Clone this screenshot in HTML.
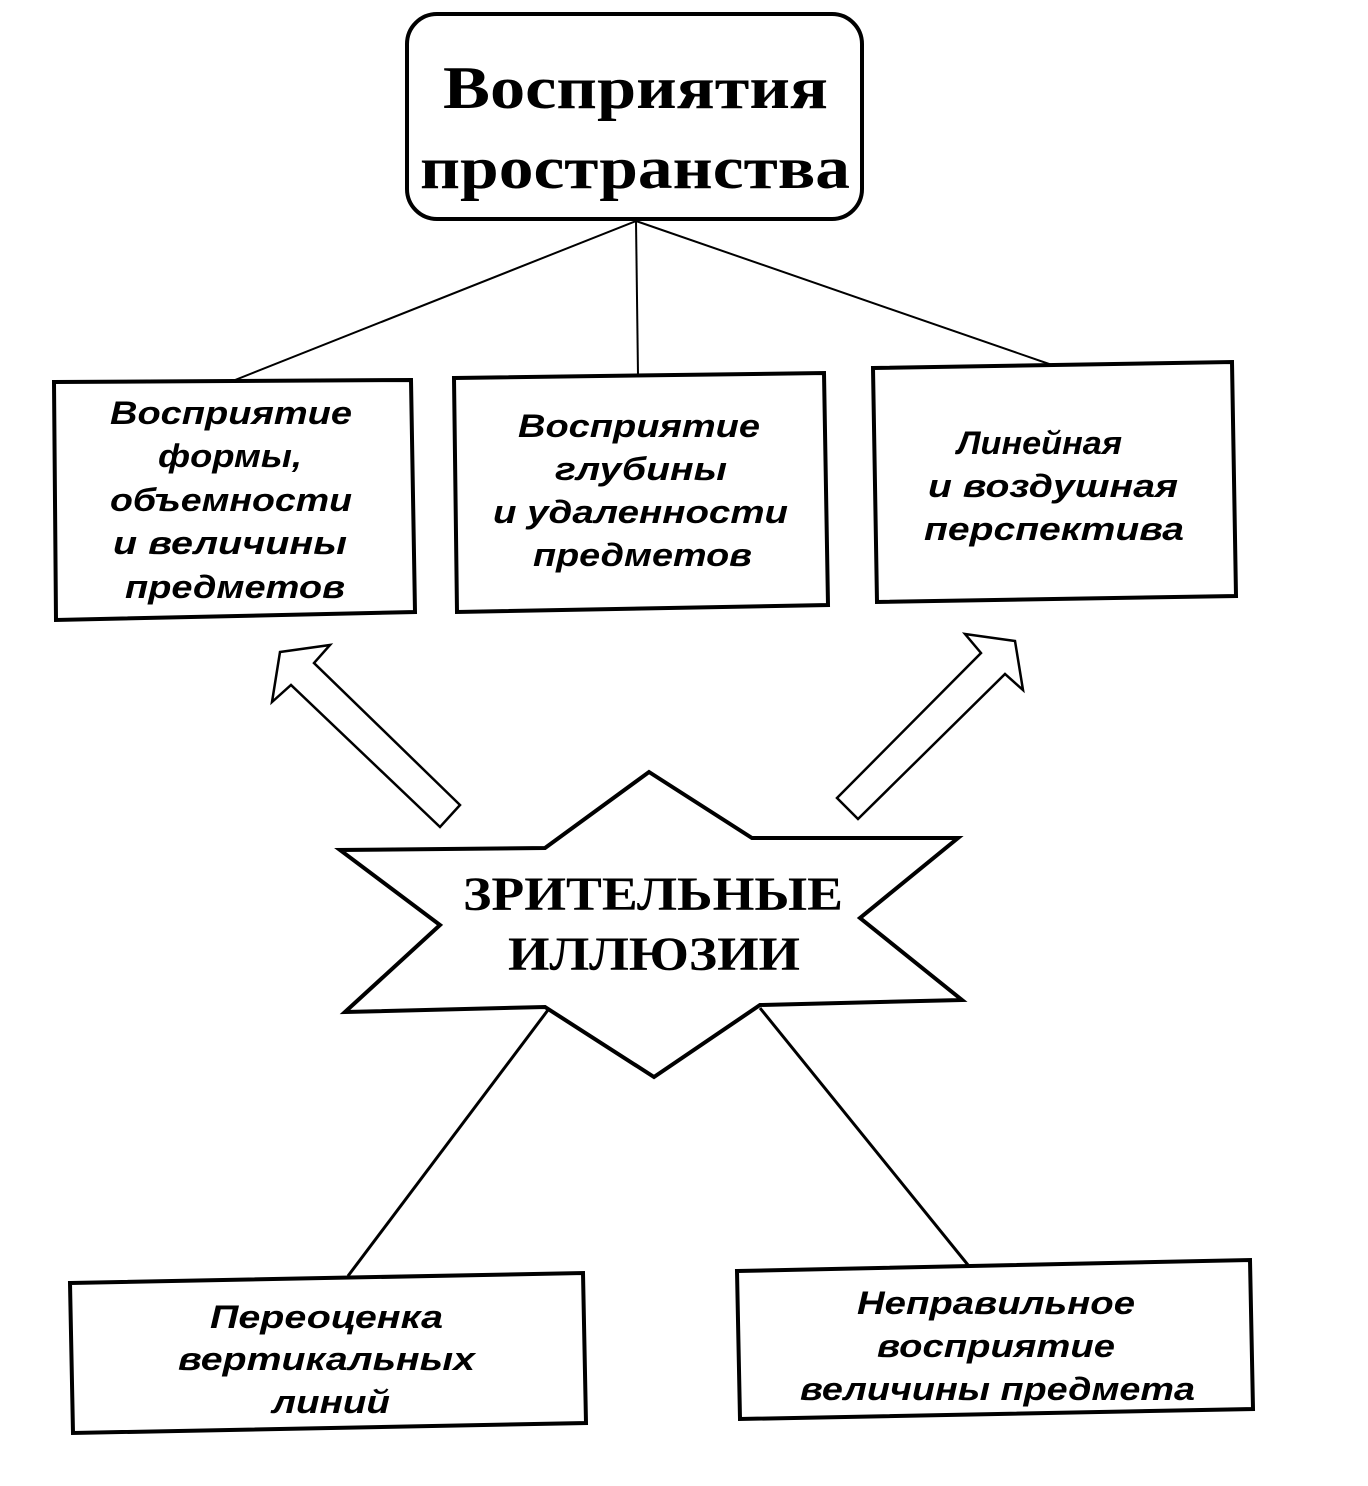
<!DOCTYPE html>
<html><head><meta charset="utf-8"><style>html,body{margin:0;padding:0;background:#fff}svg{display:block}</style></head>
<body>
<svg width="1368" height="1486" viewBox="0 0 1368 1486" xmlns="http://www.w3.org/2000/svg">
<g fill="none" stroke="#000">
<rect x="407" y="14" width="455" height="205" rx="30" stroke-width="4"/>
<line x1="636" y1="221" x2="230" y2="382" stroke-width="2"/>
<line x1="636" y1="221" x2="638" y2="375" stroke-width="2"/>
<line x1="636" y1="221" x2="1055" y2="366" stroke-width="2"/>
<polygon points="54,382 411,380 415,612 56,620" stroke-width="4"/>
<polygon points="454,378 824,373 828,605 457,612" stroke-width="4"/>
<polygon points="873,368 1232,362 1236,596 877,602" stroke-width="4"/>
<polygon points="280,652 330,645 314,663 460,805 440,827 291,685 272,702" stroke-width="2.5"/>
<polygon points="965,634 1015,641 1023,690 1005,674 858,819 837,798 981,653" stroke-width="2.5"/>
<polygon points="649,772 752,838 958,838 860,918 962,1000 760,1005 654,1077 545,1007 345,1012 440,925 340,850 545,848" stroke-width="4"/>
<line x1="548" y1="1010" x2="348" y2="1276" stroke-width="3"/>
<line x1="760" y1="1008" x2="968" y2="1265" stroke-width="3"/>
<polygon points="70,1283 583,1273 586,1423 73,1433" stroke-width="4"/>
<polygon points="737,1271 1250,1260 1253,1409 740,1419" stroke-width="4"/>
</g>
<g font-family="Liberation Serif, serif" font-weight="bold" fill="#000" lengthAdjust="spacingAndGlyphs">
<text x="443" y="108" font-size="60" textLength="385" lengthAdjust="spacingAndGlyphs">Восприятия</text>
<text x="420" y="188" font-size="60" textLength="430" lengthAdjust="spacingAndGlyphs">пространства</text>
<text x="463" y="910" font-size="48" textLength="380" lengthAdjust="spacingAndGlyphs">ЗРИТЕЛЬНЫЕ</text>
<text x="508" y="970" font-size="48" textLength="292" lengthAdjust="spacingAndGlyphs">ИЛЛЮЗИИ</text>
</g>
<g font-family="Liberation Sans, sans-serif" font-weight="bold" font-style="italic" font-size="32" fill="#000">
<text x="110" y="424" textLength="242" lengthAdjust="spacingAndGlyphs">Восприятие</text>
<text x="158" y="467" textLength="144" lengthAdjust="spacingAndGlyphs">формы,</text>
<text x="110" y="511" textLength="242" lengthAdjust="spacingAndGlyphs">объемности</text>
<text x="113" y="554" textLength="234" lengthAdjust="spacingAndGlyphs">и величины</text>
<text x="125" y="598" textLength="220" lengthAdjust="spacingAndGlyphs">предметов</text>
<text x="518" y="437" textLength="242" lengthAdjust="spacingAndGlyphs">Восприятие</text>
<text x="555" y="480" textLength="172" lengthAdjust="spacingAndGlyphs">глубины</text>
<text x="493" y="523" textLength="295" lengthAdjust="spacingAndGlyphs">и удаленности</text>
<text x="533" y="566" textLength="219" lengthAdjust="spacingAndGlyphs">предметов</text>
<text x="957" y="454" textLength="165" lengthAdjust="spacingAndGlyphs">Линейная</text>
<text x="928" y="497" textLength="250" lengthAdjust="spacingAndGlyphs">и воздушная</text>
<text x="924" y="540" textLength="260" lengthAdjust="spacingAndGlyphs">перспектива</text>
<text x="210" y="1328" textLength="233" lengthAdjust="spacingAndGlyphs">Переоценка</text>
<text x="178" y="1370" textLength="297" lengthAdjust="spacingAndGlyphs">вертикальных</text>
<text x="272" y="1413" textLength="118" lengthAdjust="spacingAndGlyphs">линий</text>
<text x="857" y="1314" textLength="278" lengthAdjust="spacingAndGlyphs">Неправильное</text>
<text x="877" y="1357" textLength="238" lengthAdjust="spacingAndGlyphs">восприятие</text>
<text x="800" y="1400" textLength="395" lengthAdjust="spacingAndGlyphs">величины предмета</text>
</g>
</svg>
</body></html>
